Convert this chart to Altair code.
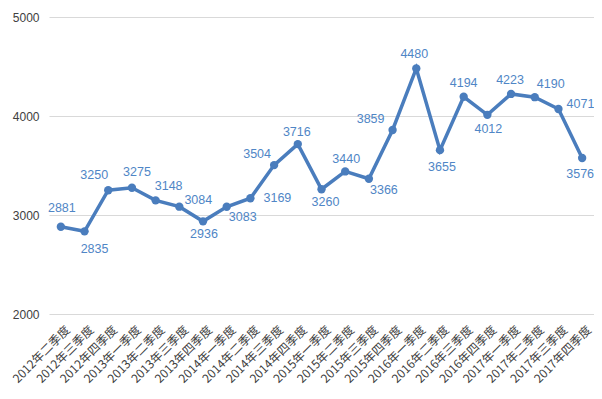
import altair as alt
import pandas as pd

quarters = [
    "2012年二季度", "2012年三季度", "2012年四季度",
    "2013年一季度", "2013年二季度", "2013年三季度", "2013年四季度",
    "2014年一季度", "2014年二季度", "2014年三季度", "2014年四季度",
    "2015年一季度", "2015年二季度", "2015年三季度", "2015年四季度",
    "2016年一季度", "2016年二季度", "2016年三季度", "2016年四季度",
    "2017年一季度", "2017年二季度", "2017年三季度", "2017年四季度",
]
values = [2881, 2835, 3250, 3275, 3148, 3084, 2936, 3083, 3169, 3504, 3716,
          3260, 3440, 3366, 3859, 4480, 3655, 4194, 4012, 4223, 4190, 4071, 3576]
y_ticks = [2000, 3000, 4000, 5000]

# data-label placement (pixel offsets from each point), a style setting
label_dx = [1, 10, -14, 5, 13, 19, 1, 16, 27, -17, -1, 4, 1, 15, -22, -2, 2, 0, 1, -1, 16, 22, -2]
label_dy = [-19, 18, -15, -16, -14, -7, 13, 10, 0, -11, -12, 13, -12, 11, -11, -14, 17, -14, 14, -14, -13, -5, 16]

LINE = "#4a7dbd"
LABEL = "#4f86c6"

df = pd.DataFrame({"quarter": quarters, "value": values, "idx": list(range(len(quarters)))})

x_enc = alt.X(
    "quarter:N", sort=quarters,
    scale=alt.Scale(type="point", padding=0.5),
    axis=alt.Axis(title=None, labelAngle=-45, labelFontSize=12, labelColor="#404040",
                  labelFont="Noto Sans CJK SC", ticks=False, domain=False, grid=False,
                  labelPadding=10, labelOffset=3),
)
y_enc = alt.Y(
    "value:Q",
    scale=alt.Scale(domain=[2000, 5000], nice=False, zero=False),
    axis=alt.Axis(title=None, values=y_ticks, format="d", labelFontSize=12,
                  labelColor="#404040", labelFont="Liberation Sans", ticks=False,
                  domain=False, gridColor="#d9d9d9", gridWidth=1, labelPadding=10),
)

line = alt.Chart(df).mark_line(color=LINE, strokeWidth=3.5).encode(x=x_enc, y=y_enc)
points = alt.Chart(df).mark_circle(size=70, color=LINE, opacity=1).encode(x=x_enc, y=y_enc)

label_layers = []
for i in range(len(quarters)):
    label_layers.append(
        alt.Chart(df).transform_filter(alt.datum.idx == i).mark_text(
            dx=label_dx[i], dy=label_dy[i], color=LABEL, fontSize=12.5,
            font="Liberation Sans", align="center", baseline="middle",
        ).encode(x=x_enc, y=y_enc, text=alt.Text("value:Q", format="d"))
    )

chart = alt.layer(line, points, *label_layers).properties(
    width=545, height=297,
    autosize=alt.AutoSizeParams(type="none"),
    padding={"left": 41, "top": 9, "right": 0, "bottom": 77},
    background="white",
).configure_view(stroke=None)

chart.save("out.html", embed_options={"renderer": "svg", "actions": False})
